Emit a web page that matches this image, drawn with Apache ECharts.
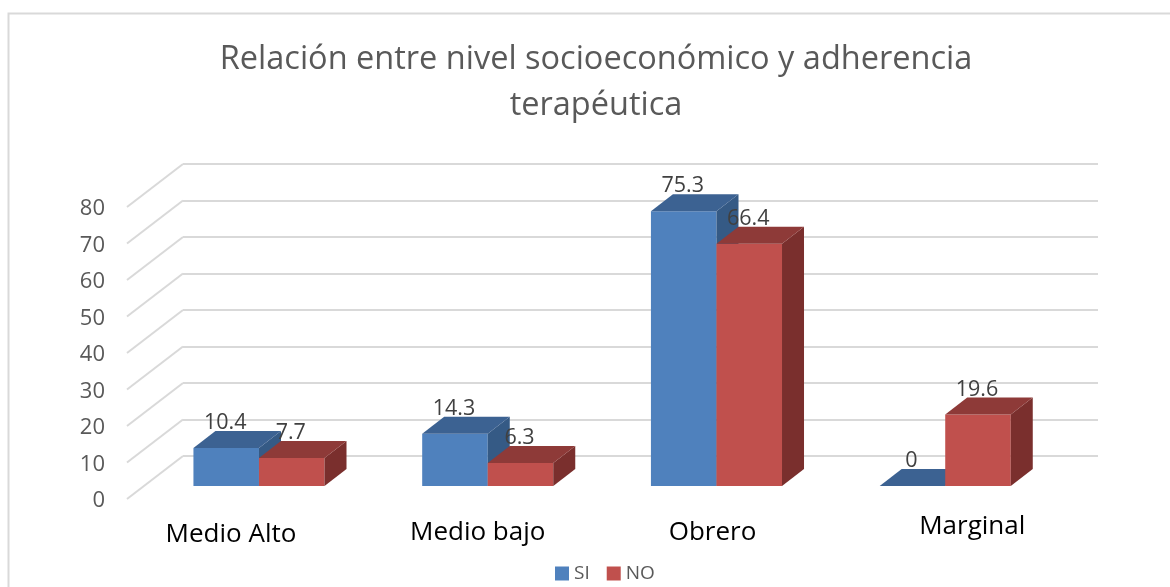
<!DOCTYPE html>
<html>
<head>
<meta charset="utf-8">
<script src="https://cdn.jsdelivr.net/npm/echarts@6/dist/echarts.min.js"></script>
<style>
  html, body { margin: 0; padding: 0; background: #fff; }
  #main { width: 1170px; height: 587px; }
</style>
</head>
<body>
<div id="main"></div>
<script>
var categories = ["Medio Alto", "Medio bajo", "Obrero", "Marginal"];
var si = [10.4, 14.3, 75.3, 0];
var no = [7.7, 6.3, 66.4, 19.6];
var ticks = [0, 10, 20, 30, 40, 50, 60, 70, 80];

var FONT = '"Open Sans", "Noto Sans", sans-serif';
// depth of the fake 3D bars and of the floor, in px
var BAR_DX = 22, BAR_DY = 17;
var FLOOR_DX = 56, FLOOR_DY = 43;
// the category labels were moved by hand in the original
var catShift = [[-28, 49], [-10, 47], [-4, 47], [27, 41]];

function barItem(side, front, top, sideCol) {
  return function (params, api) {
    var cat = api.value(0), val = api.value(1);
    var w = api.size([1, 0])[0] * 0.2865;
    var p = api.coord([cat, val]);
    var b = api.coord([cat, 0]);
    var x0 = side < 0 ? p[0] - w : p[0];
    var x1 = x0 + w;
    var kids = [];
    if (val > 0) {
      kids.push({ type: "rect", shape: { x: x0, y: p[1], width: w, height: b[1] - p[1] }, style: { fill: front } });
      kids.push({
        type: "polygon",
        shape: { points: [[x1, p[1]], [x1 + BAR_DX, p[1] - BAR_DY], [x1 + BAR_DX, b[1] - BAR_DY], [x1, b[1]]] },
        style: { fill: sideCol }
      });
    }
    kids.push({
      type: "polygon",
      shape: { points: [[x0, p[1]], [x0 + BAR_DX, p[1] - BAR_DY], [x1 + BAR_DX, p[1] - BAR_DY], [x1, p[1]]] },
      style: { fill: top }
    });
    kids.push({
      type: "text",
      z2: 20,
      style: {
        x: (x0 + x1) / 2 - 1, y: p[1] - 25, text: String(val), align: "center", verticalAlign: "middle",
        fill: "#404040", font: "21.5px " + FONT
      }
    });
    return { type: "group", children: kids };
  };
}

var myChart = echarts.init(document.getElementById("main"));
var option = {
  animation: false,
  backgroundColor: "#fff",
  title: {
    text: "Relación entre nivel socioeconómico y adherencia\nterapéutica",
    left: 591,
    top: 32,
    textAlign: "center",
    textStyle: { color: "#595959", fontFamily: FONT, fontSize: 32.5, fontWeight: "normal", lineHeight: 46 }
  },
  legend: {
    data: ["SI", "NO"],
    left: 550,
    top: 559,
    icon: "rect",
    itemWidth: 14,
    itemHeight: 14,
    itemGap: 17,
    textStyle: { color: "#595959", fontFamily: FONT, fontSize: 19 }
  },
  graphic: [{
    type: "rect",
    shape: { x: 8.5, y: 13.5, width: 1200, height: 600 },
    style: { fill: "none", stroke: "#d9d9d9", lineWidth: 2 },
    silent: true
  }],
  grid: [
    { left: 183, top: 164, width: 915, height: 292 },   // back wall
    { left: 144.6, top: 194, width: 915, height: 292 }, // bar plane
    { left: 127, top: 207, width: 915, height: 292 }    // front of the floor
  ],
  xAxis: [
    { gridIndex: 0, type: "category", data: categories, axisLine: { show: false }, axisTick: { show: false }, axisLabel: { show: false } },
    { gridIndex: 1, type: "category", data: categories, axisLine: { show: false }, axisTick: { show: false }, axisLabel: { show: false } },
    { gridIndex: 2, type: "category", data: categories, axisLine: { show: false }, axisTick: { show: false }, axisLabel: { show: false } }
  ],
  yAxis: [
    {
      gridIndex: 0, type: "value", min: 0, max: 80, interval: 10,
      axisLine: { show: false }, axisTick: { show: false }, axisLabel: { show: false },
      splitLine: { lineStyle: { color: "#d9d9d9", width: 2 } }
    },
    {
      gridIndex: 1, type: "value", min: 0, max: 80, interval: 10,
      axisLine: { show: false }, axisTick: { show: false }, axisLabel: { show: false }, splitLine: { show: false }
    },
    {
      gridIndex: 2, type: "value", min: 0, max: 80, interval: 10,
      axisLine: { show: false }, axisTick: { show: false }, splitLine: { show: false },
      axisLabel: {
        margin: 22,
        formatter: "{t|{value}}",
        rich: { t: { color: "#595959", fontFamily: FONT, fontSize: 22, padding: [4, 0, 0, 0] } }
      }
    }
  ],
  series: [
    {
      // diagonals from the front of the floor to the back wall
      type: "custom",
      silent: true,
      xAxisIndex: 2,
      yAxisIndex: 2,
      data: ticks.map(function (t) { return [0, t]; }),
      encode: { x: 0, y: 1 },
      renderItem: function (params, api) {
        var p = api.coord([0, api.value(1)]);
        var x = p[0] - api.size([1, 0])[0] / 2;
        return {
          type: "line",
          shape: { x1: x, y1: p[1], x2: x + FLOOR_DX, y2: p[1] - FLOOR_DY },
          style: { stroke: "#d9d9d9", lineWidth: 2 }
        };
      }
    },
    {
      name: "SI",
      type: "custom",
      xAxisIndex: 1,
      yAxisIndex: 1,
      itemStyle: { color: "#4f81bd" },
      data: si.map(function (v, i) { return [i, v]; }),
      encode: { x: 0, y: 1 },
      renderItem: barItem(-1, "#4f81bd", "#3c6292", "#355a85")
    },
    {
      name: "NO",
      type: "custom",
      xAxisIndex: 1,
      yAxisIndex: 1,
      itemStyle: { color: "#c0504d" },
      data: no.map(function (v, i) { return [i, v]; }),
      encode: { x: 0, y: 1 },
      renderItem: barItem(1, "#c0504d", "#8e3a38", "#7a2f2d")
    },
    {
      // category names
      type: "custom",
      silent: true,
      xAxisIndex: 1,
      yAxisIndex: 1,
      data: categories.map(function (c, i) { return [i, 0]; }),
      encode: { x: 0, y: 1 },
      renderItem: function (params, api) {
        var i = api.value(0);
        var p = api.coord([i, 0]);
        return {
          type: "text",
          style: {
            x: p[0] + catShift[i][0], y: p[1] + catShift[i][1], text: categories[i], align: "center", verticalAlign: "middle",
            fill: "#000", font: "26px " + FONT
          }
        };
      }
    }
  ]
};
myChart.setOption(option);
</script>
</body>
</html>
